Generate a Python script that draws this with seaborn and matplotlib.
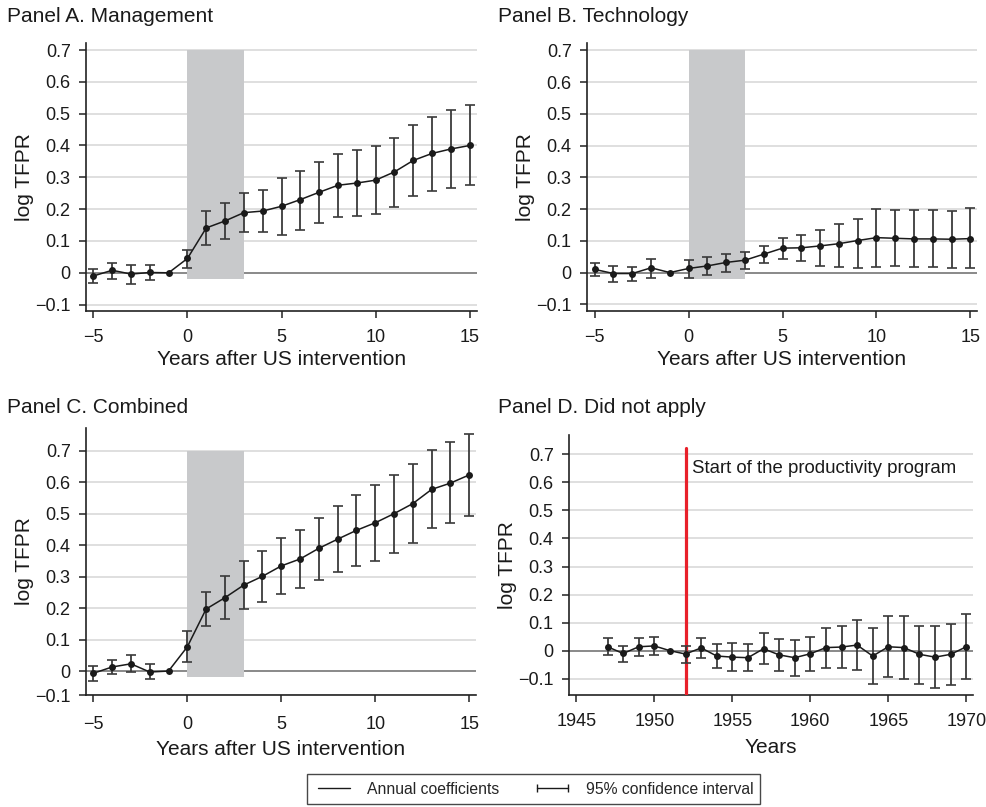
import numpy as np
import pandas as pd
import matplotlib
matplotlib.use("Agg")
import matplotlib.pyplot as plt
from matplotlib.lines import Line2D
import seaborn as sns

# ---------------- data ----------------
event_years = list(range(-5, 16))

mgmt_coef = [-0.010, 0.008, -0.004, 0.001, 0.0, 0.045, 0.141, 0.163, 0.189, 0.194, 0.209,
             0.230, 0.253, 0.275, 0.282, 0.291, 0.317, 0.353, 0.375, 0.389, 0.400]
mgmt_lo = [-0.032, -0.019, -0.034, -0.023, np.nan, 0.016, 0.087, 0.106, 0.127, 0.128, 0.120,
           0.136, 0.157, 0.174, 0.179, 0.186, 0.208, 0.240, 0.256, 0.268, 0.275]
mgmt_hi = [0.013, 0.031, 0.026, 0.026, np.nan, 0.073, 0.193, 0.218, 0.250, 0.260, 0.297,
           0.321, 0.349, 0.374, 0.387, 0.397, 0.425, 0.463, 0.491, 0.511, 0.527]

tech_coef = [0.010, -0.003, -0.003, 0.015, 0.0, 0.013, 0.021, 0.032, 0.039, 0.058, 0.077,
             0.078, 0.084, 0.091, 0.101, 0.110, 0.108, 0.106, 0.106, 0.105, 0.107]
tech_lo = [-0.012, -0.030, -0.027, -0.017, np.nan, -0.017, -0.008, 0.002, 0.010, 0.029, 0.044,
           0.038, 0.021, 0.017, 0.015, 0.018, 0.020, 0.016, 0.017, 0.015, 0.015]
tech_hi = [0.030, 0.021, 0.019, 0.042, np.nan, 0.039, 0.049, 0.057, 0.064, 0.085, 0.108,
           0.118, 0.135, 0.152, 0.170, 0.201, 0.196, 0.196, 0.196, 0.193, 0.202]

comb_coef = [-0.007, 0.013, 0.023, -0.003, 0.0, 0.077, 0.197, 0.233, 0.273, 0.301, 0.334,
             0.356, 0.390, 0.419, 0.447, 0.471, 0.500, 0.532, 0.577, 0.597, 0.623]
comb_lo = [-0.031, -0.010, -0.003, -0.026, np.nan, 0.029, 0.142, 0.164, 0.197, 0.218, 0.246,
           0.263, 0.290, 0.315, 0.334, 0.350, 0.376, 0.407, 0.454, 0.469, 0.493]
comb_hi = [0.017, 0.035, 0.050, 0.022, np.nan, 0.127, 0.250, 0.301, 0.351, 0.382, 0.422,
           0.448, 0.487, 0.523, 0.560, 0.592, 0.623, 0.659, 0.701, 0.726, 0.752]

cal_years = list(range(1947, 1971))
dna_coef = [0.014, -0.010, 0.014, 0.017, 0.0, -0.012, 0.010, -0.019, -0.023, -0.025, 0.007, -0.015,
            -0.025, -0.011, 0.011, 0.013, 0.020, -0.019, 0.014, 0.011, -0.013, -0.023, -0.013, 0.014]
dna_lo = [-0.017, -0.042, -0.019, -0.014, np.nan, -0.043, -0.026, -0.062, -0.074, -0.074, -0.048, -0.074,
          -0.092, -0.071, -0.062, -0.063, -0.070, -0.120, -0.095, -0.102, -0.118, -0.133, -0.121, -0.101]
dna_hi = [0.045, 0.018, 0.046, 0.048, np.nan, 0.015, 0.046, 0.025, 0.029, 0.024, 0.062, 0.043,
          0.038, 0.050, 0.082, 0.089, 0.111, 0.080, 0.122, 0.124, 0.089, 0.087, 0.094, 0.130]

panel_titles = ["Panel A. Management", "Panel B. Technology",
                "Panel C. Combined", "Panel D. Did not apply"]
y_label = "log TFPR"
x_label_event = "Years after US intervention"
x_label_cal = "Years"
program_start = 1952
program_text = "Start of the productivity program"
legend_labels = ["Annual coefficients", "95% confidence interval"]
y_ticks = [-0.1, 0, 0.1, 0.2, 0.3, 0.4, 0.5, 0.6, 0.7]

# ---------------- style ----------------
sns.set_theme(style="white")
plt.rcParams['font.family'] = ['Liberation Sans', 'DejaVu Sans']
plt.rcParams['axes.unicode_minus'] = True

FS_TICK = 13
FS_LAB = 15
LINE_C = "#1a1a1a"
ERR_C = "#3a3a3a"
GRID_C = "#d9d9d9"
ZERO_C = "#8a8a8a"
SHADE_C = "#c8c9cb"

fig = plt.figure(figsize=(9.87, 8.07), dpi=100)

def fpos(l, r, t, b):
    W, H = 987.0, 807.0
    return [l / W, 1 - b / H, (r - l) / W, (b - t) / H]

axA = fig.add_axes(fpos(86, 477, 43, 311))
axB = fig.add_axes(fpos(587, 977, 43, 311))
axC = fig.add_axes(fpos(86, 476, 428, 695))
axD = fig.add_axes(fpos(569, 973, 435, 695))


def draw(ax, x, coef, lo, hi, xlabel, xlim, ylim, yticks, yticklabels, shade=True):
    df = pd.DataFrame({"x": x, "coef": coef, "lo": lo, "hi": hi})
    ax.set_xlim(*xlim)
    ax.set_ylim(*ylim)
    ax.set_yticks(yticks)
    ax.set_yticklabels(yticklabels)
    ax.yaxis.grid(True, color=GRID_C, lw=1.2, zorder=0)
    ax.set_axisbelow(True)
    ax.axhline(0, color=ZERO_C, lw=1.4, zorder=1)
    if shade:
        ax.fill_between([0, 3], -0.02, 0.7, color=SHADE_C, lw=0, zorder=2)
    e = df.dropna()
    ax.errorbar(e["x"], e["coef"], yerr=[e["coef"] - e["lo"], e["hi"] - e["coef"]],
                fmt="none", ecolor=ERR_C, elinewidth=1.3, capsize=3.4, capthick=1.2, zorder=4)
    sns.lineplot(data=df, x="x", y="coef", ax=ax, color=LINE_C, lw=1.1, marker="o",
                 markersize=5.0, markeredgewidth=0, zorder=5, legend=False)
    for s in ["top", "right"]:
        ax.spines[s].set_visible(False)
    for s in ["left", "bottom"]:
        ax.spines[s].set_color("#222222")
        ax.spines[s].set_linewidth(1.2)
    ax.tick_params(axis="both", which="major", direction="out", length=5, width=1.1,
                   color="#222222", labelsize=FS_TICK, left=True, bottom=True,
                   labelcolor="#1a1a1a")
    ax.tick_params(axis="x", pad=8)
    ax.tick_params(axis="y", pad=6)
    ax.set_xlabel(xlabel, fontsize=FS_LAB, labelpad=3, color="#1a1a1a")
    ax.set_ylabel(y_label, fontsize=FS_LAB, labelpad=1, color="#1a1a1a")


ylab = ["\u22120.1", "0", "0.1", "0.2", "0.3", "0.4", "0.5", "0.6", "0.7"]
draw(axA, event_years, mgmt_coef, mgmt_lo, mgmt_hi, x_label_event, (-5.39, 15.39), (-0.12, 0.722), y_ticks, ylab)
draw(axB, event_years, tech_coef, tech_lo, tech_hi, x_label_event, (-5.41, 15.35), (-0.121, 0.723), y_ticks, ylab)
# Panel C: the bottom tick label sits on the axis line in the reference
c_bottom = -0.076
draw(axC, event_years, comb_coef, comb_lo, comb_hi, x_label_event, (-5.39, 15.36), (c_bottom, 0.772),
     [c_bottom] + y_ticks[1:], ylab)
draw(axD, cal_years, dna_coef, dna_lo, dna_hi, x_label_cal, (1944.53, 1970.43), (-0.158, 0.769),
     y_ticks, ylab, shade=False)

for ax in (axA, axB, axC):
    ax.set_xticks([-5, 0, 5, 10, 15])
    ax.set_xticklabels(["\u22125", "0", "5", "10", "15"])
axC.tick_params(axis="x", pad=10)
axC.xaxis.labelpad = 5
axD.set_xticks([1945, 1950, 1955, 1960, 1965, 1970])
axD.xaxis.labelpad = 6

axD.plot([program_start, program_start], [-0.158, 0.724], color="#e8202a", lw=2.3, zorder=3)
axD.text(program_start + 0.43, 0.65, program_text, fontsize=13.4, va="center", ha="left",
         color="#1a1a1a", zorder=6)

# panel titles
for (x, y), t in zip([(7, 17), (498, 17), (7, 408), (498, 408)], panel_titles):
    fig.text(x / 987, 1 - y / 807, t, fontsize=15, ha="left", va="center", color="#1a1a1a")

# legend
h1 = Line2D([], [], color=LINE_C, lw=1.0)
h2 = Line2D([], [], color=LINE_C, lw=1.0, marker="|", markersize=6, markeredgewidth=1.0)
leg = fig.legend([h1, h2], legend_labels, loc="center", bbox_to_anchor=(533.5 / 987, 1 - 789 / 807),
                 ncol=2, fontsize=11.3, frameon=True, fancybox=False, numpoints=2,
                 handlelength=2.6, handletextpad=0.8, columnspacing=2.1,
                 borderpad=0.45, borderaxespad=0)
leg.get_frame().set_edgecolor("#1a1a1a")
leg.get_frame().set_linewidth(1.0)

fig.savefig("out.png", dpi=100)
